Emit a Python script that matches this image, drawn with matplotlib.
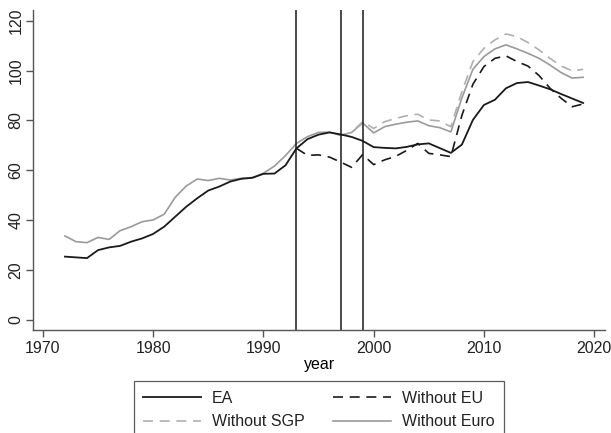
import numpy as np
import matplotlib
matplotlib.use("Agg")
import matplotlib.pyplot as plt
from matplotlib.lines import Line2D

years = np.arange(1972, 2020)

ea = [25.4, 25.1, 24.8, 28.0, 29.1, 29.7, 31.4, 32.7, 34.5, 37.4,
      41.4, 45.4, 48.8, 51.9, 53.5, 55.5, 56.6, 57.0, 58.6, 58.7,
      62.0, 68.8, 72.5, 74.3, 75.2, 74.4, 73.4, 71.8, 69.3, 69.0,
      68.8, 69.4, 70.4, 70.8, 68.9, 67.0, 70.3, 80.2, 86.2, 88.3,
      92.9, 95.0, 95.4, 94.0, 92.5, 90.6, 88.8, 87.0]

without_euro = [33.7, 31.4, 31.0, 33.1, 32.3, 35.8, 37.4, 39.4, 40.1, 42.4,
                49.2, 53.7, 56.5, 55.9, 56.8, 56.1, 56.8, 57.1, 58.8, 61.7,
                65.9, 70.8, 73.5, 75.2, 75.3, 74.0, 75.2, 79.0, 75.0, 77.5,
                78.5, 79.3, 79.8, 77.9, 77.1, 75.4, 89.0, 100.5, 105.6, 108.7,
                110.3, 108.7, 106.9, 104.9, 102.2, 99.2, 97.0, 97.3]

# counterfactuals start at their event year
years_eu = np.arange(1993, 2020)
without_eu = [68.8, 66.0, 66.2, 65.3, 63.3, 61.2, 66.3, 62.3, 64.2, 65.6,
              68.0, 70.8, 66.8, 66.2, 65.5, 82.0, 94.5, 101.6, 104.9, 105.9,
              103.6, 101.8, 98.0, 92.9, 88.9, 85.5, 86.6]

years_sgp = np.arange(1997, 2020)
without_sgp = [74.0, 75.2, 79.5, 76.8, 79.5, 80.8, 81.9, 82.5, 80.2, 79.8,
               77.5, 91.5, 103.6, 108.9, 112.3, 114.7, 113.6, 111.2, 108.3, 104.9,
               101.8, 99.9, 100.5]

events = [1993, 1997, 1999]

plt.rcParams['font.family'] = ['Liberation Sans', 'DejaVu Sans']
plt.rcParams['font.size'] = 11.5

fig = plt.figure(figsize=(6.11, 4.33), dpi=100)
ax = fig.add_axes([0.0545, 0.238, 0.936, 0.739])

dash = (0, (6, 4))
ax.plot(years, without_euro, color='#9a9a9a', lw=1.2)
ax.plot(years_sgp, without_sgp, color='#b0b0b0', lw=1.2, linestyle=dash)
ax.plot(years_eu, without_eu, color='#1a1a1a', lw=1.2, linestyle=dash)
ax.plot(years, ea, color='#1a1a1a', lw=1.3)

for yr in events:
    ax.axvline(yr, color='#1a1a1a', lw=1.1)

ax.set_xlim(1969.13, 2021.0)
ax.set_ylim(-4.0, 124.3)
ax.set_xticks(range(1970, 2021, 10))
ax.set_yticks(range(0, 121, 20))
for lbl in ax.get_yticklabels():
    lbl.set_rotation(90)
    lbl.set_va('center')
ax.set_xlabel('year', labelpad=1)

for side in ['top', 'right']:
    ax.spines[side].set_visible(False)
for side in ['left', 'bottom']:
    ax.spines[side].set_color('#555555')
    ax.spines[side].set_linewidth(1.0)
ax.tick_params(color='#555555', length=5, width=1.0, pad=3, colors='#222222')
ax.tick_params(axis='y', pad=2)

handles = [
    Line2D([], [], color='#1a1a1a', lw=1.3),
    Line2D([], [], color='#b0b0b0', lw=1.2, linestyle=dash),
    Line2D([], [], color='#1a1a1a', lw=1.2, linestyle=dash),
    Line2D([], [], color='#9a9a9a', lw=1.2),
]
labels = ['EA', 'Without SGP', 'Without EU', 'Without Euro']
leg = fig.legend(handles, labels, ncol=2, loc='upper center',
                 bbox_to_anchor=(0.522, 0.12), fancybox=False,
                 edgecolor='#333333', handlelength=3.6, columnspacing=1.8,
                 handletextpad=0.7, labelspacing=0.55, borderpad=0.6,
                 borderaxespad=0.0, fontsize=11.5)
leg.get_frame().set_linewidth(0.9)
for t in leg.get_texts():
    t.set_color('#222222')

fig.savefig('out.png', dpi=100)
